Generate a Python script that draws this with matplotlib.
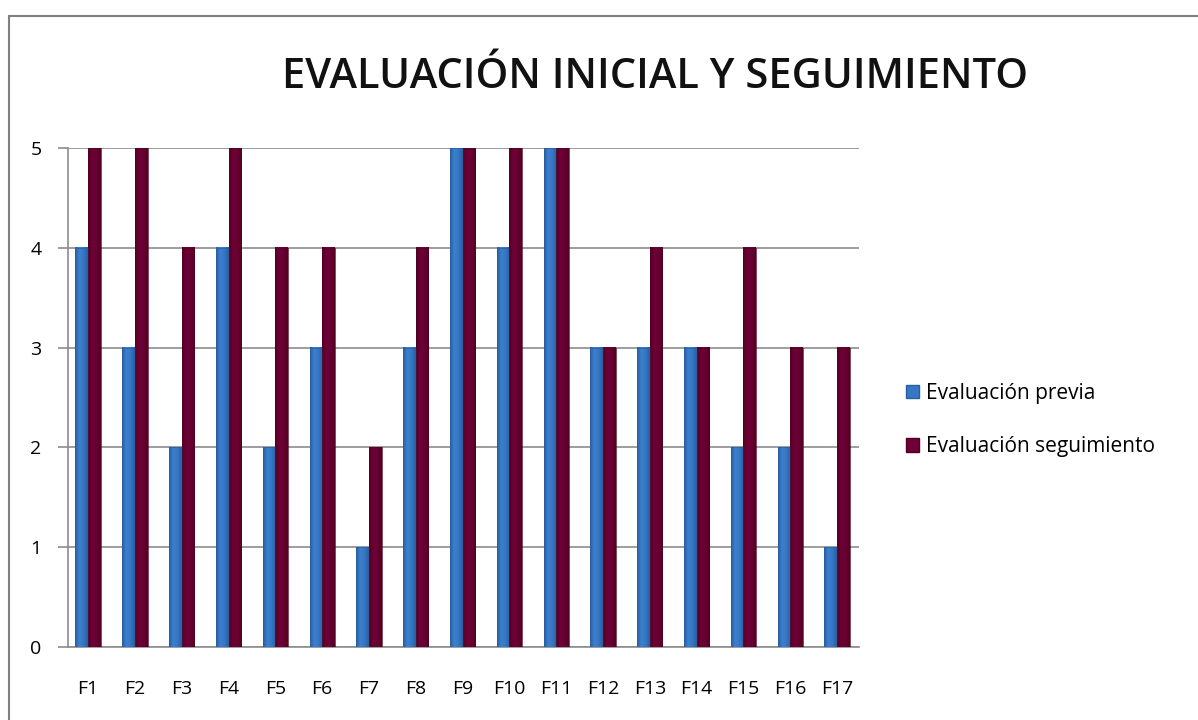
"""Evaluación inicial y seguimiento: grouped bar chart (Excel-style)."""

import matplotlib

matplotlib.use("Agg")
import matplotlib.pyplot as plt
import numpy as np
from matplotlib.colors import LinearSegmentedColormap
from matplotlib.patches import Rectangle

categories = [f"F{i}" for i in range(1, 18)]
previa = [4, 3, 2, 4, 2, 3, 1, 3, 5, 4, 5, 3, 3, 3, 2, 2, 1]
seguimiento = [5, 5, 4, 5, 4, 4, 2, 4, 5, 5, 5, 3, 4, 3, 4, 3, 3]
series_labels = ["Evaluación previa", "Evaluación seguimiento"]

FONT = ["Open Sans", "DejaVu Sans"]
plt.rcParams["font.family"] = FONT

blue_cmap = LinearSegmentedColormap.from_list("b", ["#2a5e9e", "#3c80d0", "#3577c4", "#2a5e9e"])
red_cmap = LinearSegmentedColormap.from_list("r", ["#52001f", "#6e0037", "#680033", "#52001f"])


def _gradient_bars(ax, xs, heights, width, cmap, base):
    grad = np.linspace(0, 1, 64).reshape(1, -1)
    for x, h in zip(xs, heights):
        ax.imshow(grad, extent=(x - width / 2, x + width / 2, 0, h), cmap=cmap,
                  aspect="auto", origin="lower", zorder=3, interpolation="bilinear")
    ax.bar(xs, heights, width=width, color="none", edgecolor=base, linewidth=0.5, zorder=4)


fig = plt.figure(figsize=(11.98, 7.2), dpi=100)
fig.patches.append(Rectangle((9 / 1198, -0.1), 1.2, 1.1 - 16 / 720, transform=fig.transFigure,
                             fill=False, edgecolor="#808080", linewidth=1.5))

ax = fig.add_axes([68 / 1198, 1 - 647 / 720, (859 - 68) / 1198, (647 - 148) / 720])

x = np.arange(len(categories))
w = 0.27
_gradient_bars(ax, x - w / 2, previa, w, blue_cmap, "#2a5e9e")
_gradient_bars(ax, x + w / 2, seguimiento, w, red_cmap, "#52001f")

ax.set_xlim(-0.43, len(categories) - 0.53)
ax.set_ylim(0, 5)
ax.set_yticks(range(6))
ax.set_xticks(x)
ax.set_xticklabels(categories)
ax.grid(axis="y", color="#8c8c8c", linewidth=1.2, zorder=0)
ax.set_axisbelow(True)
for side in ["top", "right"]:
    ax.spines[side].set_visible(False)
ax.spines["left"].set_color("#8c8c8c")
ax.spines["bottom"].set_color("#8c8c8c")
ax.spines["left"].set_linewidth(1.2)
ax.spines["bottom"].set_linewidth(1.2)
ax.tick_params(axis="y", length=7, color="#8c8c8c", width=1.2, labelsize=14, pad=12)
ax.tick_params(axis="x", length=0, labelsize=14, pad=24)

fig.text(655 / 1198, 1 - 77 / 720, "EVALUACIÓN INICIAL Y SEGUIMIENTO", ha="center", va="center",
         fontsize=30, fontweight="semibold", color="#111111")

handles = [Rectangle((0, 0), 1, 1, facecolor="#3577c4", edgecolor="#2a5e9e"),
           Rectangle((0, 0), 1, 1, facecolor="#6e0037", edgecolor="#52001f")]
fig.legend(handles, series_labels, loc="center left", bbox_to_anchor=(887 / 1198, 1 - 420 / 720),
           frameon=False, fontsize=15, handlelength=0.65, handleheight=0.65, handletextpad=0.3,
           labelspacing=1.55)

fig.savefig("out.png", dpi=100)
